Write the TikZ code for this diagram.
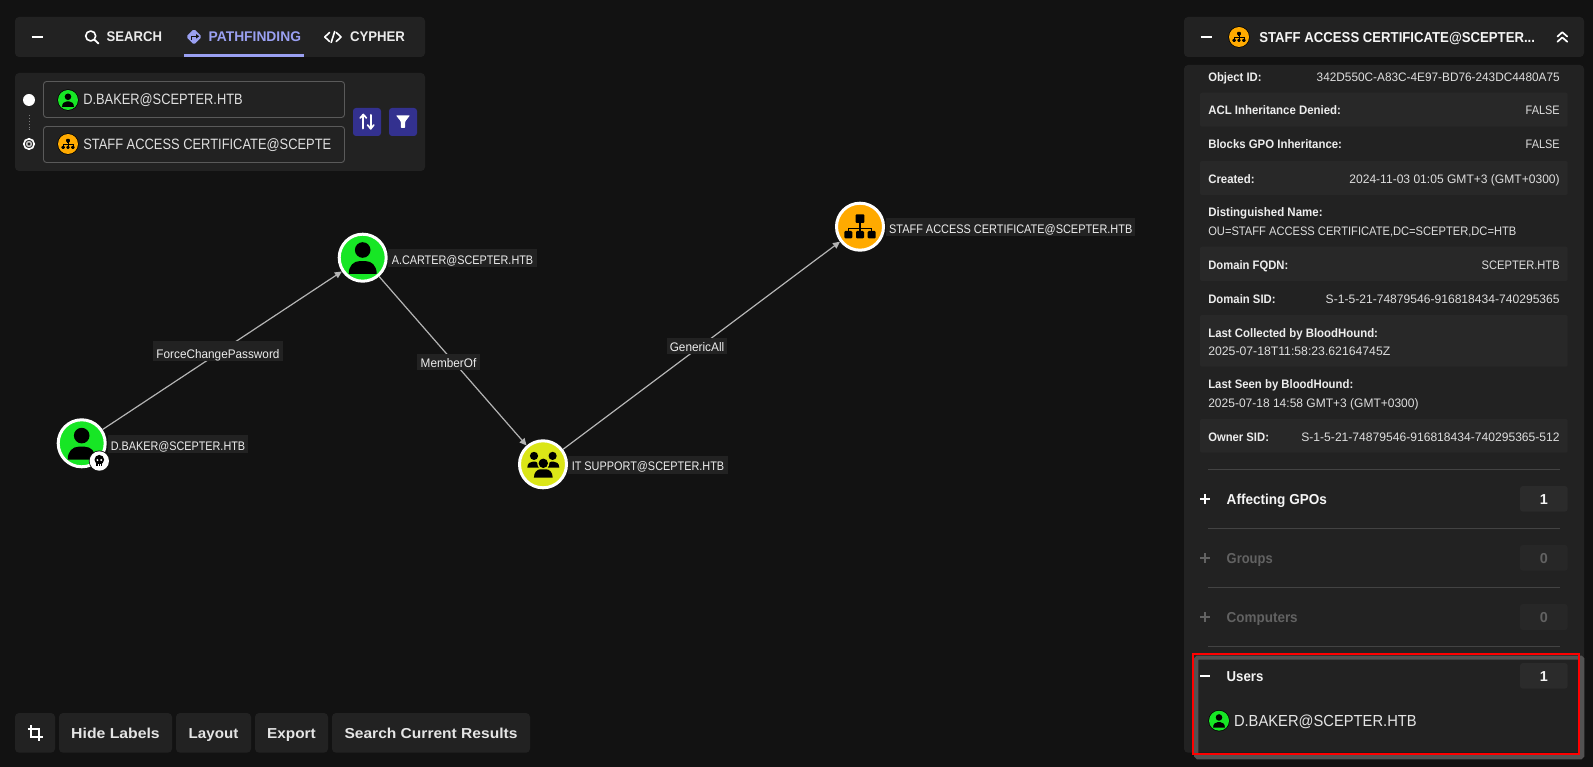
\documentclass[tikz,border=0pt]{standalone}
\usepackage{fontspec}
\usepackage{graphicx}
\usetikzlibrary{arrows.meta}
\setmainfont{Liberation Sans}
\newcommand{\fw}[2]{\resizebox{#1pt}{\height}{#2}}
\definecolor{bgc}{HTML}{121212}
\definecolor{panelc}{HTML}{222222}
\definecolor{stripec}{HTML}{282828}
\definecolor{countc}{HTML}{2B2B2B}
\definecolor{countd}{HTML}{272727}
\definecolor{linec}{HTML}{434343}
\definecolor{inputc}{HTML}{5A5A5A}
\definecolor{purp}{HTML}{9AA0F2}
\definecolor{btnc}{HTML}{33318F}
\definecolor{greenc}{HTML}{17E625}
\definecolor{yellowc}{HTML}{DBE617}
\definecolor{orangec}{HTML}{FFAA00}
\definecolor{edgec}{HTML}{B4B4B4}
\definecolor{valc}{HTML}{DEDEDE}
\definecolor{dimc}{HTML}{626262}
\tikzset{
  x=1pt,y=-1pt,
  panel/.style={fill=panelc,rounded corners=4pt},
  glyph/.style={draw=white,line width=1.6pt,line cap=round,line join=round},
  txt/.style={inner sep=0pt,outer sep=0pt,text depth=0pt,text=#1},
  txt/.default=valc,
  valtxt/.style={txt,anchor=east,text height=8.9pt,font=\fontsize{12.3}{15}\selectfont},
  keytxt/.style={txt=white!93!black,anchor=west,text height=8.9pt,font=\bfseries\fontsize{12.3}{15}\selectfont},
  secttxt/.style={txt=#1,anchor=west,text height=10.3pt,font=\bfseries\fontsize{14.4}{17}\selectfont},
  secttxt/.default=white!96!black,
  numtxt/.style={txt=#1,anchor=center,text height=10.3pt,font=\bfseries\fontsize{14.4}{17}\selectfont},
  numtxt/.default=white!96!black,
  tabtxt/.style={txt=#1,anchor=west,text height=10pt,font=\bfseries\fontsize{14}{17}\selectfont},
  inputtxt/.style={txt=white!88!black,anchor=west,text height=10.7pt,font=\fontsize{15}{18}\selectfont},
  btntxt/.style={txt=white!90!black,anchor=center,text height=10.3pt,font=\bfseries\fontsize{14.4}{17}\selectfont},
  graphlab/.style={fill=panelc,inner sep=0pt,outer sep=0pt,anchor=center,text=white!93!black,text height=#1,text depth=0pt,font=\fontsize{12.4}{15}\selectfont},
  gnode/.style={circle,draw=white,line width=3pt,minimum size=47pt,inner sep=0pt,fill=#1},
  edge/.style={draw=edgec,line width=1.2pt,-{Triangle[length=7pt,width=6.5pt,fill=edgec]}},
  usershape/.pic={
    \fill[black] (0,-7.7) circle[radius=7.8];
    \fill[black] (-14,16.2) .. controls (-14,8) and (-9,3.4) .. (-3,3.4) -- (3,3.4) .. controls (9,3.4) and (14,8) .. (14,16.2) -- cycle;
  },
  orgshape/.pic={
    \fill[black,rounded corners=1pt] (-4.4,-12.4) rectangle (4.4,-3.8);
    \fill[black] (-3,-6) rectangle (3,-3.2);
    \fill[black] (-0.6,-4) rectangle (0.6,4.5);
    \fill[black] (-12.3,1) rectangle (12.3,2.2);
    \fill[black] (-12.3,1) rectangle (-11.1,4.5);
    \fill[black] (11.1,1) rectangle (12.3,4.5);
    \foreach \c in {-11.7,0,11.7}{
      \fill[black,rounded corners=1.2pt] (\c-4,4.2) rectangle (\c+4,11.8);
    }
  },
}
\newcommand{\groupglyph}{%
  \fill[black] (-9.3,-8.4) circle[radius=4.1];
  \fill[black] (9.3,-8.4) circle[radius=4.1];
  \fill[black] (-16,3.4) .. controls (-16,-1) and (-13,-2.8) .. (-10,-2.8) -- (-8,-2.8) .. controls (-6,-2.8) and (-5,-1) .. (-4.5,3.4) -- cycle;
  \fill[black] (16,3.4) .. controls (16,-1) and (13,-2.8) .. (10,-2.8) -- (8,-2.8) .. controls (6,-2.8) and (5,-1) .. (4.5,3.4) -- cycle;
  \fill[yellowc] (0,-1) circle[radius=6];
  \fill[black] (0,-1) circle[radius=4.7];
  \fill[black] (-9.4,13.3) .. controls (-9.4,8) and (-6,5) .. (-3,5) -- (3,5) .. controls (6,5) and (9.4,8) .. (9.4,13.3) -- cycle;
}
\begin{document}
\begin{tikzpicture}
\useasboundingbox (0,0) rectangle (1593,767);
\fill[bgc] (0,0) rectangle (1593,767);

% top left panels
\fill[panel] (15,17) rectangle (425,57);
\fill[panel] (15,73) rectangle (425,171);
\draw[glyph,line width=1.7pt,line cap=butt] (31.5,37) -- (43,37);
\draw[glyph] (90.7,36) circle[radius=5];
\draw[glyph,line width=1.8pt] (94.5,39.8) -- (98.4,43.4);
\node[tabtxt=white!92!black] (tsearch) at (106.7,37) {\fw{55.3}{SEARCH}};
\fill[purp,rounded corners=1.5pt] (194,29) -- (201.8,36.8) -- (194,44.6) -- (186.2,36.8) -- cycle;
\draw[bgc,line width=1.1pt] (191.3,40) -- (191.3,36.3) -- (197,36.3);
\fill[bgc] (196,34) -- (199.2,36.3) -- (196,38.6) -- cycle;
\node[tabtxt=purp] (tpath) at (208.7,37) {\fw{92.3}{PATHFINDING}};
\fill[purp] (184,54) rectangle (304,57);
\draw[glyph] (329.5,32.5) -- (324.8,37) -- (329.5,41.5);
\draw[glyph] (336.3,32.5) -- (341,37) -- (336.3,41.5);
\draw[glyph] (334.7,31.5) -- (331.2,42.5);
\node[tabtxt=white!92!black] (tcypher) at (350,37) {\fw{55}{CYPHER}};

% search inputs
\fill[white] (29,100) circle[radius=6];
\draw[inputc!80!white,line width=.9pt,dotted] (29.4,115) -- (29.4,130);
\draw[white,line width=1.6pt] (29,144) circle[radius=5.2];
\draw[white!78!black,line width=1.5pt] (29,144) circle[radius=2.4];
\draw[inputc,rounded corners=3pt,line width=.9pt] (43.5,81.5) rectangle (344.5,117.5);
\draw[inputc,rounded corners=3pt,line width=.9pt] (43.5,126.5) rectangle (344.5,162.5);
\fill[black] (68,100) circle[radius=10.7];
\fill[greenc] (68,100) circle[radius=10];
\pic[scale=.42] at (68,100) {usershape};
\node[inputtxt] (istart) at (83.3,99.5) {\fw{159.4}{D.BAKER@SCEPTER.HTB}};
\fill[black] (68,144) circle[radius=10.7];
\fill[orangec] (68,144) circle[radius=10];
\pic[scale=.42] at (68,144) {orgshape};
\node[inputtxt] (iend) at (83.3,144) {\fw{248}{STAFF ACCESS CERTIFICATE@SCEPTE}};
\fill[btnc,rounded corners=3pt] (353,108) rectangle (381,136);
\fill[btnc,rounded corners=3pt] (389,108) rectangle (417,136);
\draw[glyph,line width=2pt] (363.3,128.5) -- (363.3,115);
\draw[glyph,line width=1.7pt] (360.2,118) -- (363.3,114.5) -- (366.4,118);
\draw[glyph,line width=2pt] (370.7,115) -- (370.7,128.5);
\draw[glyph,line width=1.7pt] (367.6,125) -- (370.7,128.8) -- (373.8,125);
\fill[white,rounded corners=.8pt] (396,115.3) -- (410,115.3) -- (405.2,121.5) -- (405.2,128) -- (400.8,128) -- (400.8,121.5) -- cycle;

% graph
\node[gnode=greenc] (dbaker) at (81.7,443.3) {};
\node[gnode=greenc] (acarter) at (362.7,257.7) {};
\node[gnode=yellowc] (itsupport) at (543,464.3) {};
\node[gnode=orangec] (staff) at (860,226.7) {};
\draw[edge] (dbaker) -- (acarter);
\draw[edge] (acarter) -- (itsupport);
\draw[edge] (itsupport) -- (staff);
\pic at (81.7,443.3) {usershape};
\pic at (362.7,257.7) {usershape};
\begin{scope}[shift={(543.3,464.3)}]\groupglyph\end{scope}
\pic at (860,226.7) {orgshape};
% skull badge
\fill[bgc] (99.3,461) circle[radius=10.5];
\fill[white] (99.3,461) circle[radius=9.7];
\fill[black] (99.3,459.7) circle[radius=4.8];
\fill[black] (96.2,461) rectangle (102.4,465.8);
\fill[white] (97.4,460) circle[radius=1.1];
\fill[white] (101.2,460) circle[radius=1.1];
\fill[white] (97.9,464.2) rectangle (98.6,465.8);
\fill[white] (100,464.2) rectangle (100.7,465.8);

\node[graphlab=12.3pt,minimum width=140pt,minimum height=18pt] (ldbaker) at (178,444) {\fw{134.3}{D.BAKER@SCEPTER.HTB}};
\node[graphlab=12.3pt,minimum width=149pt,minimum height=18pt] (lacarter) at (462.5,258) {\fw{141.3}{A.CARTER@SCEPTER.HTB}};
\node[graphlab=11.5pt,minimum width=160pt,minimum height=18pt] (litsupport) at (648,465) {\fw{152.5}{IT SUPPORT@SCEPTER.HTB}};
\node[graphlab=12.3pt,minimum width=249.5pt,minimum height=18pt] (lstaff) at (1010.7,227) {\fw{243.2}{STAFF ACCESS CERTIFICATE@SCEPTER.HTB}};
\node[graphlab=15.5pt,minimum width=130pt,minimum height=19.4pt] (eforce) at (218,351) {\fw{123}{ForceChangePassword}};
\node[graphlab=10.9pt,minimum width=63pt,minimum height=16pt] (emember) at (448.5,361.7) {\fw{55.6}{MemberOf}};
\node[graphlab=10.3pt,minimum width=60pt,minimum height=16pt] (egeneric) at (697,346) {\fw{54.5}{GenericAll}};

% bottom buttons
\fill[panel] (15,713) rectangle (55,752.7);
\fill[panel] (59,713) rectangle (172,752.7);
\fill[panel] (176,713) rectangle (251,752.7);
\fill[panel] (255,713) rectangle (328,752.7);
\fill[panel] (332,713) rectangle (530,752.7);
\draw[glyph,line width=1.7pt,line cap=butt,line join=miter] (31,725.2) -- (31,737.2) -- (43,737.2);
\draw[glyph,line width=1.7pt,line cap=butt,line join=miter] (27.5,729) -- (39.2,729) -- (39.2,741);
\node[btntxt] (bhide) at (115.5,733.5) {\fw{88.5}{Hide Labels}};
\node[btntxt] (blayout) at (213.5,733.5) {\fw{49.6}{Layout}};
\node[btntxt] (bexport) at (291.5,733.5) {\fw{48.6}{Export}};
\node[btntxt] (bsearch) at (431,733.5) {\fw{172.9}{Search Current Results}};

% right panel
\fill[panel] (1184,17) rectangle (1584,57);
\fill[panel] (1184,65) rectangle (1584,752.7);
\draw[glyph,line width=1.7pt,line cap=butt] (1200.5,37) -- (1212,37);
\fill[black] (1239,37) circle[radius=10.7];
\fill[orangec] (1239,37) circle[radius=10];
\pic[scale=.42] at (1239,37) {orgshape};
\node[secttxt] (title) at (1259.3,37) {\fw{275.7}{STAFF ACCESS CERTIFICATE@SCEPTER...}};
\draw[glyph,line width=1.7pt] (1557.5,36.5) -- (1562.3,32.2) -- (1567.2,36.5);
\draw[glyph,line width=1.7pt] (1557.5,41.7) -- (1562.3,37.4) -- (1567.2,41.7);

\foreach \a/\b in {92.7/126.7,161/195,246.7/281,315/366.7,419/452.7}{
  \fill[stripec,rounded corners=2pt] (1200,\a) rectangle (1567.7,\b);
}
\node[keytxt] (k1) at (1208.3,76.7) {\fw{53.3}{Object ID:}};
\node[valtxt] (v1) at (1559.7,76.7) {\fw{243}{342D550C-A83C-4E97-BD76-243DC4480A75}};
\node[keytxt] (k2) at (1208.3,110.4) {\fw{132.7}{ACL Inheritance Denied:}};
\node[valtxt] (v2) at (1559.7,110.4) {\fw{34}{FALSE}};
\node[keytxt] (k3) at (1208.3,144.4) {\fw{133.7}{Blocks GPO Inheritance:}};
\node[valtxt] (v3) at (1559.7,144.4) {\fw{34}{FALSE}};
\node[keytxt] (k4) at (1208.3,178.6) {\fw{46.3}{Created:}};
\node[valtxt] (v4) at (1559.7,178.6) {\fw{210.3}{2024-11-03 01:05 GMT+3 (GMT+0300)}};
\node[keytxt] (k5) at (1208.3,212.4) {\fw{114.3}{Distinguished Name:}};
\node[valtxt,anchor=west] (v5) at (1208.3,230.7) {\fw{308}{OU=STAFF ACCESS CERTIFICATE,DC=SCEPTER,DC=HTB}};
\node[keytxt] (k6) at (1208.3,264.7) {\fw{80}{Domain FQDN:}};
\node[valtxt] (v6) at (1559.7,264.7) {\fw{78}{SCEPTER.HTB}};
\node[keytxt] (k7) at (1208.3,298.7) {\fw{67.3}{Domain SID:}};
\node[valtxt] (v7) at (1559.7,298.7) {\fw{234}{S-1-5-21-74879546-916818434-740295365}};
\node[keytxt] (k8) at (1208.3,332.7) {\fw{169.7}{Last Collected by BloodHound:}};
\node[valtxt,anchor=west] (v8) at (1208.3,350.7) {\fw{182}{2025-07-18T11:58:23.62164745Z}};
\node[keytxt] (k9) at (1208.3,384.5) {\fw{145}{Last Seen by BloodHound:}};
\node[valtxt,anchor=west] (v9) at (1208.3,402.7) {\fw{210.3}{2025-07-18 14:58 GMT+3 (GMT+0300)}};
\node[keytxt] (k10) at (1208.3,436.7) {\fw{60.7}{Owner SID:}};
\node[valtxt] (v10) at (1559.7,436.7) {\fw{258.3}{S-1-5-21-74879546-916818434-740295365-512}};

\foreach \y in {469.3,528.3,587,646.3}{
  \draw[linec,line width=.9pt] (1208,\y) -- (1560,\y);
}
% highlight shadow
\draw[white!32!black,line width=4.2pt,rounded corners=1.5pt] (1196.2,657.6) rectangle (1582.2,757.2);
% sections
\draw[glyph,line width=1.5pt,line cap=butt] (1200.3,499) -- (1210,499) (1205.2,494) -- (1205.2,504);
\draw[dimc,line width=1.5pt] (1200.3,558) -- (1210,558) (1205.2,553) -- (1205.2,563);
\draw[dimc,line width=1.5pt] (1200.3,617) -- (1210,617) (1205.2,612) -- (1205.2,622);
\draw[glyph,line width=1.7pt,line cap=butt] (1200.3,676) -- (1210,676);
\node[secttxt] (s1) at (1226.7,499) {\fw{100.3}{Affecting GPOs}};
\node[secttxt=dimc] (s2) at (1226.7,558) {\fw{46}{Groups}};
\node[secttxt=dimc] (s3) at (1226.7,617) {\fw{71}{Computers}};
\node[secttxt] (s4) at (1226.7,676) {\fw{36.7}{Users}};
\fill[countc,rounded corners=3pt] (1520,486) rectangle (1567.7,511.7);
\fill[countd,rounded corners=3pt] (1520,545) rectangle (1567.7,570.7);
\fill[countd,rounded corners=3pt] (1520,604) rectangle (1567.7,630);
\fill[countc,rounded corners=3pt] (1520,663) rectangle (1567.7,688.7);
\node[numtxt] (n1) at (1543.8,499) {1};
\node[numtxt=dimc] (n2) at (1543.8,558) {0};
\node[numtxt=dimc] (n3) at (1543.8,617) {0};
\node[numtxt] (n4) at (1543.8,676) {1};
\fill[black] (1219,720.7) circle[radius=10.7];
\fill[greenc] (1219,720.7) circle[radius=10];
\pic[scale=.42] at (1219,720.7) {usershape};
\node[txt=white!90!black,anchor=west,text height=11.4pt,font=\fontsize{16}{19}\selectfont] (ubaker) at (1234,721) {\fw{182.7}{D.BAKER@SCEPTER.HTB}};

% highlight
\draw[red,line width=2pt] (1193.2,654.2) rectangle (1579.2,753.7);
\end{tikzpicture}
\end{document}
